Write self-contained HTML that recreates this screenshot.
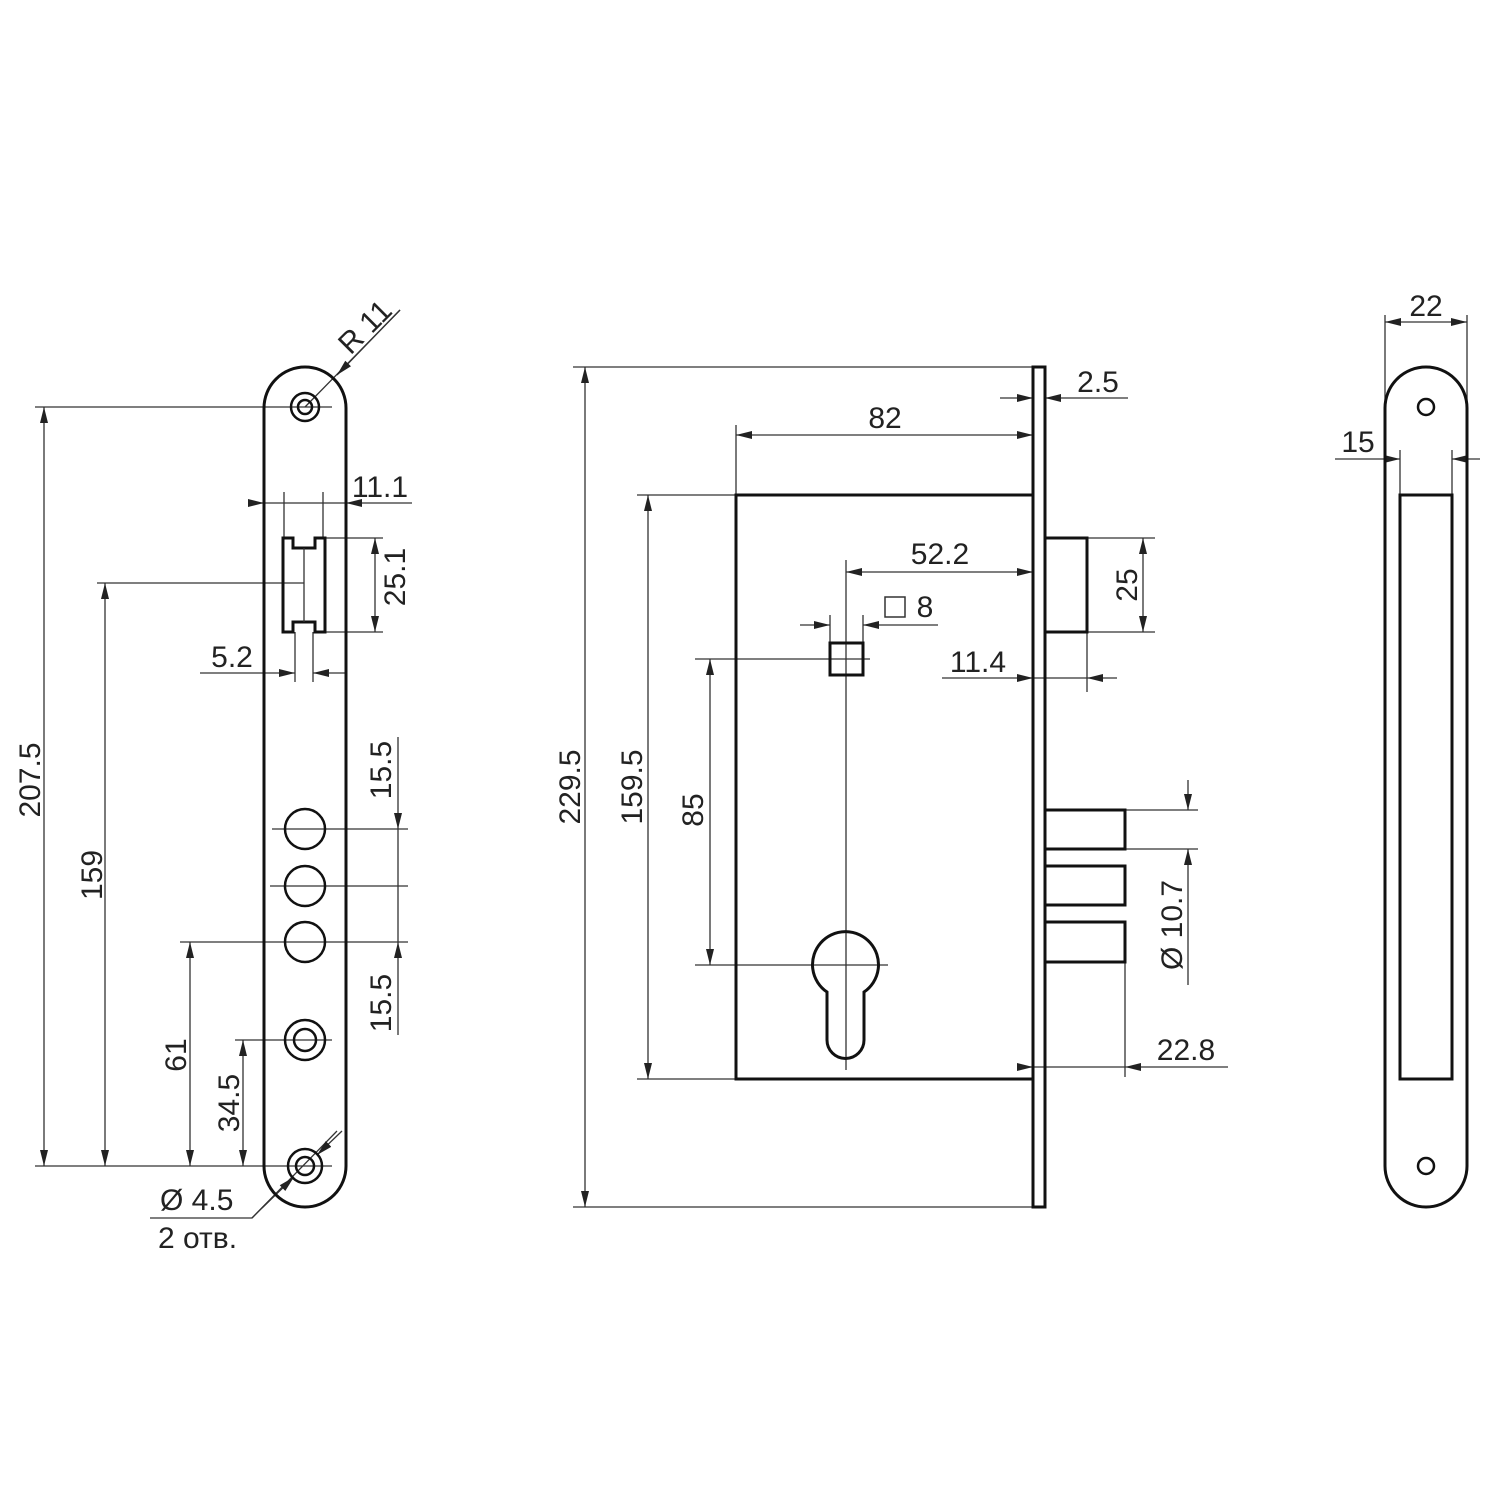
<!DOCTYPE html>
<html><head><meta charset="utf-8"><style>html,body{margin:0;padding:0;background:#fff}svg{display:block}</style></head>
<body>
<svg width="1500" height="1500" viewBox="0 0 1500 1500" xmlns="http://www.w3.org/2000/svg" font-family="Liberation Sans, Arial, sans-serif" font-size="30" fill="none">
<defs>
<marker id="a" viewBox="0 0 16 8" refX="16" refY="4" markerWidth="16" markerHeight="8" markerUnits="userSpaceOnUse" orient="auto-start-reverse"><path d="M0,0 L16,4 L0,8 Z" fill="#222"/></marker>
</defs>
<g stroke="#333" stroke-width="1.3">
<!-- LEFT PLATE dimension lines -->
<line x1="35" y1="407" x2="332" y2="407"/>
<line x1="35" y1="1166" x2="332" y2="1166"/>
<line x1="44" y1="407" x2="44" y2="1166" marker-start="url(#a)" marker-end="url(#a)"/>
<line x1="97" y1="583" x2="304" y2="583"/>
<line x1="105" y1="583" x2="105" y2="1166" marker-start="url(#a)" marker-end="url(#a)"/>
<line x1="180" y1="942" x2="408" y2="942"/>
<line x1="190" y1="942" x2="190" y2="1166" marker-start="url(#a)" marker-end="url(#a)"/>
<line x1="235" y1="1040" x2="332" y2="1040"/>
<line x1="243" y1="1040" x2="243" y2="1166" marker-start="url(#a)" marker-end="url(#a)"/>
<line x1="272" y1="829" x2="408" y2="829"/>
<line x1="270" y1="886" x2="408" y2="886"/>
<line x1="398" y1="737" x2="398" y2="829" marker-end="url(#a)"/>
<line x1="398" y1="829" x2="398" y2="942"/>
<line x1="398" y1="1035" x2="398" y2="942" marker-end="url(#a)"/>
<!-- 11.1 -->
<line x1="284" y1="492" x2="284" y2="538"/>
<line x1="323" y1="492" x2="323" y2="538"/>
<line x1="255" y1="503" x2="264" y2="503" marker-end="url(#a)"/>
<line x1="264" y1="503" x2="346" y2="503"/>
<line x1="412" y1="503" x2="346" y2="503" marker-end="url(#a)"/>
<!-- 25.1 -->
<line x1="325" y1="538" x2="383" y2="538"/>
<line x1="325" y1="632" x2="383" y2="632"/>
<line x1="375" y1="538" x2="375" y2="632" marker-start="url(#a)" marker-end="url(#a)"/>
<!-- 5.2 -->
<line x1="295" y1="632" x2="295" y2="682"/>
<line x1="313" y1="632" x2="313" y2="682"/>
<line x1="200" y1="673" x2="295" y2="673" marker-end="url(#a)"/>
<line x1="345" y1="673" x2="313" y2="673" marker-end="url(#a)"/>
<!-- R11 leader -->
<line x1="400" y1="310" x2="305" y2="407"/>
<line x1="400" y1="310" x2="337" y2="375" marker-end="url(#a)"/>
<!-- Ø4.5 leader -->
<polyline points="150,1218 252,1218 337,1131"/>
<line x1="252" y1="1218" x2="290" y2="1180" />
<line x1="262" y1="1208" x2="294" y2="1177" marker-end="url(#a)"/>
<line x1="342" y1="1131" x2="317" y2="1155" marker-end="url(#a)"/>
</g>
<g stroke="#111" stroke-width="3">
<path d="M264,408 A41,41 0 0 1 346,408 L346,1166 A41,41 0 0 1 264,1166 Z"/>
<path d="M283,538 H293 V548 H315 V538 H325 V632 H315 V622 H293 V632 H283 Z"/>
<circle cx="305" cy="407" r="14" stroke-width="2.5"/><circle cx="305" cy="407" r="7" stroke-width="2.5"/>
<circle cx="305" cy="1166" r="17" stroke-width="2.5"/><circle cx="305" cy="1166" r="9" stroke-width="2.5"/>
<circle cx="305" cy="1040" r="20" stroke-width="2.5"/><circle cx="305" cy="1040" r="11" stroke-width="2.5"/>
<circle cx="305" cy="829" r="20" stroke-width="2.5"/>
<circle cx="305" cy="886" r="20" stroke-width="2.5"/>
<circle cx="305" cy="942" r="20" stroke-width="2.5"/>
</g>
<line x1="304" y1="548" x2="304" y2="622" stroke="#333" stroke-width="1.3"/>

<!-- MIDDLE -->
<g stroke="#333" stroke-width="1.3">
<line x1="573" y1="367" x2="1033" y2="367"/>
<line x1="573" y1="1207" x2="1040" y2="1207"/>
<line x1="585" y1="367" x2="585" y2="1207" marker-start="url(#a)" marker-end="url(#a)"/>
<line x1="637" y1="495" x2="736" y2="495"/>
<line x1="637" y1="1079" x2="736" y2="1079"/>
<line x1="648" y1="495" x2="648" y2="1079" marker-start="url(#a)" marker-end="url(#a)"/>
<line x1="695" y1="659" x2="870" y2="659"/>
<line x1="695" y1="965" x2="888" y2="965"/>
<line x1="710" y1="659" x2="710" y2="965" marker-start="url(#a)" marker-end="url(#a)"/>
<line x1="846" y1="560" x2="846" y2="1070"/>
<line x1="736" y1="425" x2="736" y2="495"/>
<line x1="736" y1="435" x2="1033" y2="435" marker-start="url(#a)" marker-end="url(#a)"/>
<line x1="1000" y1="398" x2="1033" y2="398" marker-end="url(#a)"/>
<line x1="1128" y1="398" x2="1045" y2="398" marker-end="url(#a)"/>
<line x1="846" y1="572" x2="1033" y2="572" marker-start="url(#a)" marker-end="url(#a)"/>
<line x1="830" y1="615" x2="830" y2="643"/>
<line x1="863" y1="615" x2="863" y2="643"/>
<line x1="800" y1="625" x2="830" y2="625" marker-end="url(#a)"/>
<line x1="938" y1="625" x2="863" y2="625" marker-end="url(#a)"/>
<line x1="942" y1="678" x2="1033" y2="678" marker-end="url(#a)"/>
<line x1="1033" y1="678" x2="1087" y2="678"/>
<line x1="1117" y1="678" x2="1087" y2="678" marker-end="url(#a)"/>
<line x1="1087" y1="632" x2="1087" y2="692"/>
<line x1="1087" y1="538" x2="1155" y2="538"/>
<line x1="1087" y1="632" x2="1155" y2="632"/>
<line x1="1143" y1="538" x2="1143" y2="632" marker-start="url(#a)" marker-end="url(#a)"/>
<line x1="1125" y1="810" x2="1198" y2="810"/>
<line x1="1125" y1="849" x2="1198" y2="849"/>
<line x1="1188" y1="780" x2="1188" y2="810" marker-end="url(#a)"/>
<line x1="1188" y1="985" x2="1188" y2="849" marker-end="url(#a)"/>
<line x1="1125" y1="962" x2="1125" y2="1077"/>
<line x1="1020" y1="1067" x2="1033" y2="1067" marker-end="url(#a)"/>
<line x1="1033" y1="1067" x2="1125" y2="1067"/>
<line x1="1228" y1="1067" x2="1125" y2="1067" marker-end="url(#a)"/>
</g>
<rect x="885" y="597" width="20" height="20" stroke="#333" stroke-width="1.5"/>
<g stroke="#111" stroke-width="3">
<rect x="1033" y="367" width="12" height="840"/>
<rect x="736" y="495" width="297" height="584"/>
<rect x="1045" y="538" width="42" height="94"/>
<rect x="1045" y="810" width="80" height="39"/>
<rect x="1045" y="866" width="80" height="39"/>
<rect x="1045" y="922" width="80" height="40"/>
<rect x="830" y="643" width="33" height="32"/>
<path d="M827,992 A33,33 0 1 1 864,992 L864,1040 A18.5,18.5 0 0 1 827,1040 Z"/>
</g>

<!-- RIGHT -->
<g stroke="#333" stroke-width="1.3">
<line x1="1385" y1="315" x2="1385" y2="400"/>
<line x1="1467" y1="315" x2="1467" y2="400"/>
<line x1="1385" y1="322" x2="1467" y2="322" marker-start="url(#a)" marker-end="url(#a)"/>
<line x1="1400" y1="450" x2="1400" y2="495"/>
<line x1="1452" y1="450" x2="1452" y2="495"/>
<line x1="1335" y1="459" x2="1400" y2="459" marker-end="url(#a)"/>
<line x1="1480" y1="459" x2="1452" y2="459" marker-end="url(#a)"/>
</g>
<g stroke="#111" stroke-width="3">
<path d="M1385,408 A41,41 0 0 1 1467,408 L1467,1166 A41,41 0 0 1 1385,1166 Z"/>
<rect x="1400" y="495" width="52" height="584"/>
<circle cx="1426" cy="407" r="8" stroke-width="2.5"/>
<circle cx="1426" cy="1166" r="8" stroke-width="2.5"/>
</g>

<g fill="#222" stroke="none">
<text x="30" y="780" text-anchor="middle" transform="rotate(-90 30 780)" dy="10">207.5</text>
<text x="92" y="875" text-anchor="middle" transform="rotate(-90 92 875)" dy="10">159</text>
<text x="176" y="1055" text-anchor="middle" transform="rotate(-90 176 1055)" dy="10">61</text>
<text x="229" y="1103" text-anchor="middle" transform="rotate(-90 229 1103)" dy="10">34.5</text>
<text x="381" y="770" text-anchor="middle" transform="rotate(-90 381 770)" dy="10">15.5</text>
<text x="381" y="1003" text-anchor="middle" transform="rotate(-90 381 1003)" dy="10">15.5</text>
<text x="395" y="577" text-anchor="middle" transform="rotate(-90 395 577)" dy="10">25.1</text>
<text x="380" y="497" text-anchor="middle">11.1</text>
<text x="232" y="667" text-anchor="middle">5.2</text>
<text x="365" y="327" text-anchor="middle" transform="rotate(-45 365 327)" dy="10">R 11</text>
<text x="160" y="1210">Ø 4.5</text>
<text x="158" y="1248">2 отв.</text>

<text x="570" y="787" text-anchor="middle" transform="rotate(-90 570 787)" dy="10">229.5</text>
<text x="632" y="787" text-anchor="middle" transform="rotate(-90 632 787)" dy="10">159.5</text>
<text x="693" y="810" text-anchor="middle" transform="rotate(-90 693 810)" dy="10">85</text>
<text x="885" y="428" text-anchor="middle">82</text>
<text x="1098" y="392" text-anchor="middle">2.5</text>
<text x="940" y="564" text-anchor="middle">52.2</text>
<text x="925" y="617" text-anchor="middle">8</text>
<text x="978" y="672" text-anchor="middle">11.4</text>
<text x="1127" y="585" text-anchor="middle" transform="rotate(-90 1127 585)" dy="10">25</text>
<text x="1172" y="925" text-anchor="middle" transform="rotate(-90 1172 925)" dy="10">Ø 10.7</text>
<text x="1186" y="1060" text-anchor="middle">22.8</text>

<text x="1426" y="316" text-anchor="middle">22</text>
<text x="1358" y="452" text-anchor="middle">15</text>
</g>
</svg>
</body></html>
